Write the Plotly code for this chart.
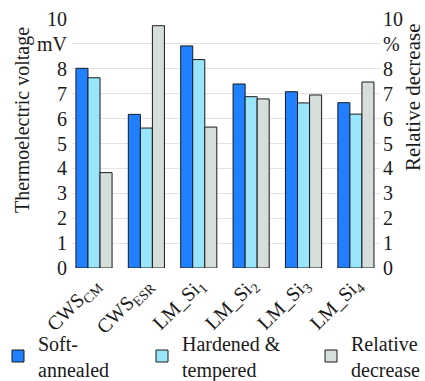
import plotly.graph_objects as go

categories = ["CWS<sub>CM</sub>", "CWS<sub>ESR</sub>", "LM_Si<sub>1</sub>",
              "LM_Si<sub>2</sub>", "LM_Si<sub>3</sub>", "LM_Si<sub>4</sub>"]
soft_annealed = [8.02, 6.17, 8.92, 7.39, 7.08, 6.64]
hardened_tempered = [7.64, 5.62, 8.37, 6.88, 6.63, 6.18]
relative_decrease = [3.83, 9.73, 5.66, 6.79, 6.95, 7.47]
y_tickvals = list(range(0, 11))
y_ticktext_left = ["0", "1", "2", "3", "4", "5", "6", "7", "8", "mV", "10"]
y_ticktext_right = ["0", "1", "2", "3", "4", "5", "6", "7", "8", "%", "10"]

FONT = "Liberation Serif"
TXT = "#1a1a1a"
LINE = dict(color="#1a1a1a", width=1)

fig = go.Figure()
fig.add_trace(go.Bar(x=categories, y=soft_annealed, name="Soft-<br>annealed",
                     marker=dict(color="#2080ff", line=LINE), showlegend=True,
                     offsetgroup="a", legend="legend"))
fig.add_trace(go.Bar(x=categories, y=hardened_tempered, name="Hardened &<br>tempered",
                     marker=dict(color="#99e5fb", line=LINE), showlegend=True,
                     offsetgroup="b", legend="legend2"))
fig.add_trace(go.Bar(x=categories, y=relative_decrease, name="Relative<br>decrease",
                     marker=dict(color="#d5dedb", line=LINE), showlegend=True,
                     offsetgroup="c", yaxis="y2", legend="legend3"))

W, H = 425, 381
l, r, t, b = 72, 45, 19, 113
pw, ph = W - l - r, H - t - b

def px_to_paper(xp, yp):
    return (xp - l) / pw, (H - b - yp) / ph

def legend_at(xp, yp):
    x, y = px_to_paper(xp, yp)
    return dict(orientation="v", font=dict(family=FONT, size=20, color=TXT),
                bgcolor="rgba(0,0,0,0)", xanchor="left", yanchor="middle",
                x=x, y=y, tracegroupgap=0, visible=True)

fig.update_layout(
    width=W, height=H,
    showlegend=True,
    margin=dict(l=l, r=r, t=t, b=b, autoexpand=False),
    paper_bgcolor="white", plot_bgcolor="white",
    barmode="group", bargap=0.31, bargroupgap=0,
    font=dict(family=FONT, size=20, color=TXT),
    xaxis=dict(type="category", range=[-0.42, 5.46], tickangle=-45,
               showgrid=False, showline=False, ticks="",
               tickfont=dict(family=FONT, size=20, color=TXT)),
    yaxis=dict(range=[0, 10], tickvals=y_tickvals, ticktext=y_ticktext_left,
               showgrid=True, gridcolor="#e3e3e3",
               gridwidth=1, zeroline=False, showline=False, ticks="",
               ticklabelstandoff=4,
               tickfont=dict(family=FONT, size=20, color=TXT)),
    yaxis2=dict(range=[0, 10], tickvals=y_tickvals, ticktext=y_ticktext_right,
                overlaying="y", side="right",
                showgrid=False, zeroline=False, showline=False, ticks="",
                ticklabelstandoff=2,
                tickfont=dict(family=FONT, size=20, color=TXT)),
    legend=legend_at(-2, 356),
    legend2=legend_at(142, 356),
    legend3=legend_at(311, 356),
)

ann = []
x, y = px_to_paper(22, 120)
ann.append(dict(text="Thermoelectric voltage", textangle=-90, xref="paper", yref="paper",
                x=x, y=y, showarrow=False, xanchor="center", yanchor="middle",
                font=dict(family=FONT, size=20, color=TXT)))
x, y = px_to_paper(413, 97)
ann.append(dict(text="Relative decrease", textangle=-90, xref="paper", yref="paper",
                x=x, y=y, showarrow=False, xanchor="center", yanchor="middle",
                font=dict(family=FONT, size=21, color=TXT)))
fig.layout.annotations = ann

fig.write_html("out.html")
